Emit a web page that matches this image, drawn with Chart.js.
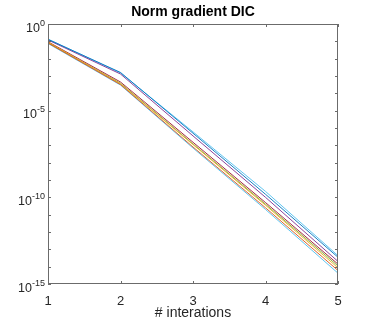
<!DOCTYPE html>
<html>
<head>
<meta charset="utf-8">
<script src="https://cdn.jsdelivr.net/npm/chart.js@4"></script>
<style>
  html, body { margin: 0; padding: 0; background: #fff; }
  #wrap { width: 374px; height: 323px; }
</style>
</head>
<body>
<div id="wrap"><canvas id="normChart" width="374" height="323"></canvas></div>
<script>
// Norm gradient DIC - convergence per run

const iterations = [1, 2, 3, 4, 5];
const yTickExponents = [0, -5, -10, -15];
const runA = [1.3e-1, 1.6e-3, 5.0e-7, 1.5e-10, 3.5e-14];
const runB = [8.0e-2, 3.2e-4, 8.0e-8, 2.5e-11, 6.0e-15];
const runC = [9.0e-2, 3.5e-4, 1.1e-7, 3.5e-11, 8.5e-15];
const runD = [1.2e-1, 1.3e-3, 3.5e-7, 1.0e-10, 2.0e-14];
const runE = [8.5e-2, 3.8e-4, 1.2e-7, 4.0e-11, 1.1e-14];
const runF = [1.35e-1, 1.5e-3, 6.0e-7, 2.2e-10, 4.3e-14];
const runG = [9.5e-2, 4.5e-4, 1.5e-7, 5.0e-11, 1.4e-14];
const runH = [7.5e-2, 3.0e-4, 7.0e-8, 2.0e-11, 4.2e-15];
const runs = [runA, runB, runC, runD, runE, runF, runG, runH];

const colors = ['#0072BD', '#D95319', '#EDB120', '#7E2F8E', '#77AC30', '#4DBEEE', '#A2142F', '#4DBEEE'];
const axisColor = '#262626';
const FONT = 'Liberation Sans, Arial, Helvetica, sans-serif';

// MATLAB-ish box, inward ticks, title and superscript labels
const matlabAxes = {
    id: 'matlabAxes',
    afterDraw(chart) {
        const { ctx, chartArea: a, scales } = chart;
        const xs = scales.x, ys = scales.y;
        ctx.save();
        ctx.strokeStyle = '#6b6b6b';
        ctx.lineWidth = 1;
        ctx.strokeRect(a.left + 0.5, a.top + 0.5, a.right - a.left - 1, a.bottom - a.top - 1);

        ctx.beginPath();
        iterations.forEach(v => {
            const px = Math.round(xs.getPixelForValue(v)) + 0.5;
            ctx.moveTo(px, a.bottom); ctx.lineTo(px, a.bottom - 3);
            ctx.moveTo(px, a.top); ctx.lineTo(px, a.top + 3);
        });
        for (let e = 0; e >= -15; e--) {
            const py = Math.round(ys.getPixelForValue(Math.pow(10, e))) + 0.5;
            ctx.moveTo(a.left, py); ctx.lineTo(a.left + 3, py);
            ctx.moveTo(a.right, py); ctx.lineTo(a.right - 3, py);
        }
        ctx.stroke();

        // y labels 10^e
        ctx.fillStyle = axisColor;
        ctx.textAlign = 'right';
        ctx.textBaseline = 'alphabetic';
        yTickExponents.forEach(e => {
            const py = ys.getPixelForValue(Math.pow(10, e));
            const sup = String(e);
            ctx.font = '9px ' + FONT;
            const supW = ctx.measureText(sup).width;
            ctx.fillText(sup, 45, py + 1.5);
            ctx.font = '12.5px ' + FONT;
            ctx.fillText('10', 45 - supW, py + 7.5);
        });

        // title
        ctx.font = 'bold 14px ' + FONT;
        ctx.textAlign = 'center';
        ctx.textBaseline = 'middle';
        ctx.fillStyle = '#000';
        ctx.fillText('Norm gradient DIC', (a.left + a.right) / 2, 12);
        ctx.restore();
    }
};

const ctx = document.getElementById('normChart').getContext('2d');
new Chart(ctx, {
    type: 'line',
    data: {
        datasets: runs.map((run, i) => ({
            data: iterations.map((it, j) => ({ x: it, y: run[j] })),
            borderColor: colors[i],
            backgroundColor: colors[i],
            borderWidth: 0.9,
            pointRadius: 0,
            fill: false,
            tension: 0
        }))
    },
    options: {
        responsive: false,
        animation: false,
        layout: { padding: { top: 24, right: 36, left: 0, bottom: 0 } },
        plugins: { legend: { display: false }, tooltip: { enabled: false } },
        scales: {
            x: {
                type: 'linear',
                min: 1, max: 5,
                grid: { display: false },
                border: { display: false },
                ticks: {
                    stepSize: 1,
                    color: axisColor,
                    font: { family: FONT, size: 13 },
                    padding: 1.5,
                    maxRotation: 0
                },
                title: {
                    display: true,
                    text: '# interations',
                    color: axisColor,
                    font: { family: FONT, size: 14 },
                    padding: { top: 0, bottom: 1 }
                },
                afterFit: (s) => { s.height = 39; }
            },
            y: {
                type: 'logarithmic',
                min: 1e-15, max: 1,
                grid: { display: false },
                border: { display: false },
                ticks: { display: false },
                afterFit: (s) => { s.width = 48; }
            }
        }
    },
    plugins: [matlabAxes]
});
</script>
</body>
</html>
